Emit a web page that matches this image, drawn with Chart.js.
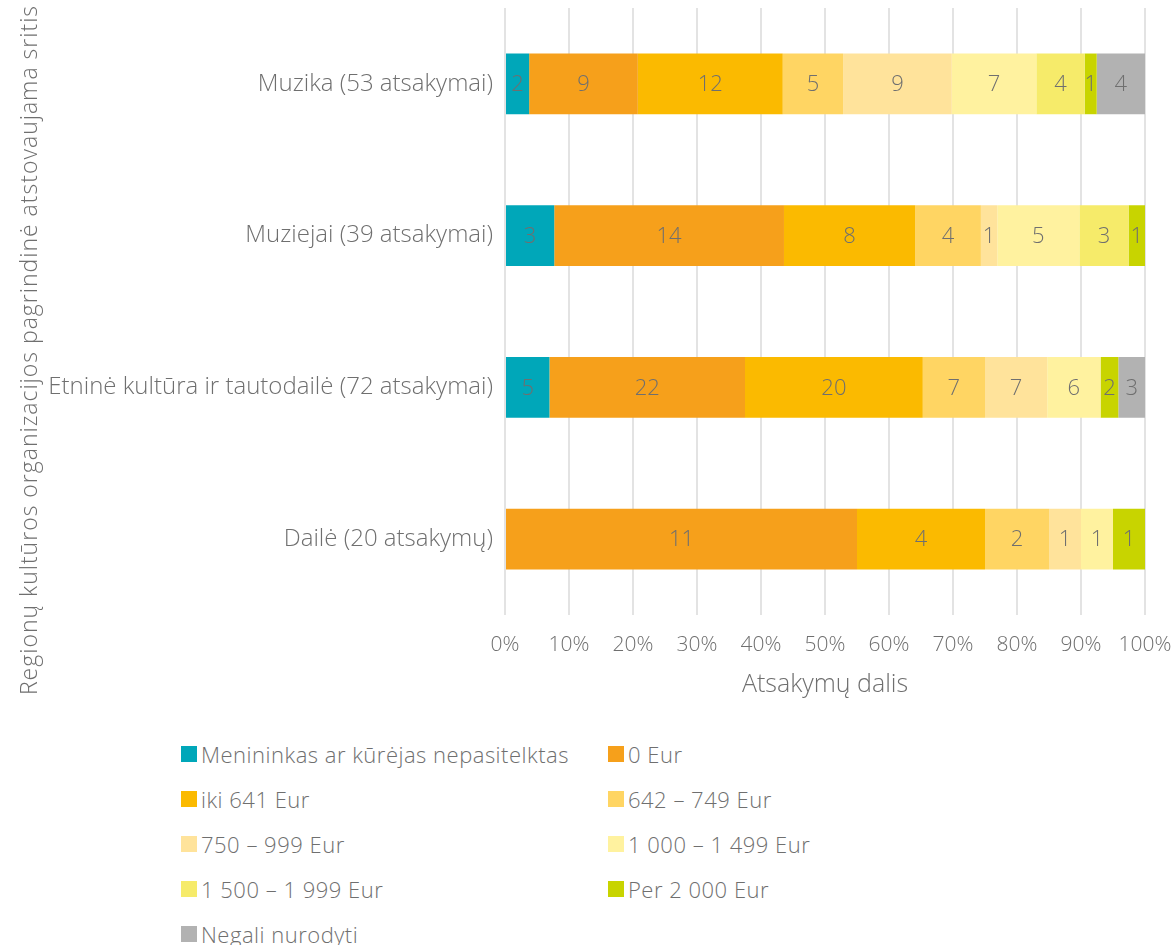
<!DOCTYPE html>
<html>
<head>
<meta charset="utf-8">
<script src="https://cdn.jsdelivr.net/npm/chart.js@4.4.1/dist/chart.umd.min.js"></script>
<style>
  body { margin: 0; background: #fff; font-family: "Open Sans", sans-serif; }
  #wrap { position: relative; width: 1172px; height: 945px; overflow: hidden; }
  #box { position: absolute; left: 0; top: 0; width: 1172px; height: 715px; }
  #legend { position: absolute; left: 181px; top: 731px; display: grid;
    grid-template-columns: 427px 300px; grid-auto-rows: 45px; }
  .item { display: flex; align-items: center; font-size: 22px; font-weight: 300; color: #6f6f6f; letter-spacing: 0.5px; white-space: nowrap; }
  .sw { width: 16px; height: 16px; margin-right: 4px; flex: none; }
</style>
</head>
<body>
<div id="wrap">
  <div id="box"><canvas id="chart"></canvas></div>
  <div id="legend"></div>
</div>
<script>
const categories = ['Muzika (53 atsakymai)', 'Muziejai (39 atsakymai)',
  'Etninė kultūra ir tautodailė (72 atsakymai)', 'Dailė (20 atsakymų)'];

// counts per category, in the order above
const nepasitelktas = [2, 3, 5, 0];
const eur0 = [9, 14, 22, 11];
const iki641 = [12, 8, 20, 4];
const eur642 = [5, 4, 7, 2];
const eur750 = [9, 1, 7, 1];
const eur1000 = [7, 5, 6, 1];
const eur1500 = [4, 3, 0, 0];
const per2000 = [1, 1, 2, 1];
const negali = [4, 0, 3, 0];

const xTicks = [0, 10, 20, 30, 40, 50, 60, 70, 80, 90, 100];

const series = [
  ['Menininkas ar kūrėjas nepasitelktas', nepasitelktas, '#00a7b9'],
  ['0 Eur', eur0, '#f6a01b'],
  ['iki 641 Eur', iki641, '#fbba00'],
  ['642 – 749 Eur', eur642, '#ffd563'],
  ['750 – 999 Eur', eur750, '#ffe39b'],
  ['1 000 – 1 499 Eur', eur1000, '#fff29f'],
  ['1 500 – 1 999 Eur', eur1500, '#f6eb6a'],
  ['Per 2 000 Eur', per2000, '#c8d400'],
  ['Negali nurodyti', negali, '#b2b2b2']
];

const totals = categories.map((c, i) => series.reduce((s, d) => s + d[1][i], 0));

const textColor = '#6f6f6f';
const font = '"Open Sans", sans-serif';

const valueLabels = {
  id: 'valueLabels',
  afterDatasetsDraw(chart) {
    const ctx = chart.ctx;
    ctx.save();
    ctx.font = '300 22px ' + font;
    ctx.fillStyle = textColor;
    ctx.textAlign = 'center';
    ctx.textBaseline = 'middle';
    chart.data.datasets.forEach((ds, di) => {
      chart.getDatasetMeta(di).data.forEach((bar, i) => {
        const n = ds.counts[i];
        if (!n) return;
        ctx.fillText(String(n), (bar.x + bar.base) / 2, bar.y + 1);
      });
    });
    ctx.restore();
  }
};

const yTitle = {
  id: 'yTitle',
  afterDraw(chart) {
    const ctx = chart.ctx;
    ctx.save();
    ctx.translate(30, 350);
    ctx.rotate(-Math.PI / 2);
    ctx.font = '300 23px ' + font;
    ctx.letterSpacing = '1px';
    ctx.fillStyle = textColor;
    ctx.textAlign = 'center';
    ctx.textBaseline = 'middle';
    ctx.fillText('Regionų kultūros organizacijos pagrindinė atstovaujama sritis', 0, 0);
    ctx.restore();
  }
};

const chart = new Chart(document.getElementById('chart'), {
  type: 'bar',
  data: {
    labels: categories,
    datasets: series.map(s => ({
      label: s[0],
      counts: s[1],
      data: s[1].map((v, i) => v / totals[i] * 100),
      backgroundColor: s[2],
      borderWidth: 0,
      barPercentage: 0.4,
      categoryPercentage: 1
    }))
  },
  options: {
    indexAxis: 'y',
    responsive: true,
    maintainAspectRatio: false,
    animation: false,
    layout: { padding: { top: 8, right: 27, bottom: 0, left: 0 } },
    plugins: { legend: { display: false }, tooltip: { enabled: false } },
    scales: {
      x: {
        stacked: true, min: 0, max: 100,
        afterBuildTicks: s => { s.ticks = xTicks.map(v => ({ value: v })); },
        afterFit: s => { s.height = 100; s.paddingLeft = 0; s.paddingRight = 0; },
        grid: { color: '#e3e3e3', lineWidth: 2, drawTicks: false },
        border: { display: false },
        ticks: { padding: 17, color: textColor, font: { family: font, size: 21, weight: 300 },
          callback: v => v + '%' },
        title: { display: true, text: 'Atsakymų dalis', color: textColor,
          font: { family: font, size: 25, weight: 300 }, padding: { top: 0, bottom: 15 } }
      },
      y: {
        stacked: true,
        afterFit: s => { s.width = 505; s.paddingTop = 0; s.paddingBottom = 0; },
        grid: { display: false, drawTicks: false },
        border: { display: false },
        ticks: { padding: 12, color: textColor, font: { family: font, size: 24, weight: 300 } }
      }
    }
  },
  plugins: [valueLabels, yTitle]
});

const legend = document.getElementById('legend');
chart.data.datasets.forEach(ds => {
  const it = document.createElement('div');
  it.className = 'item';
  it.innerHTML = '<span class="sw" style="background:' + ds.backgroundColor + '"></span>' + ds.label;
  legend.appendChild(it);
});
</script>
</body>
</html>
